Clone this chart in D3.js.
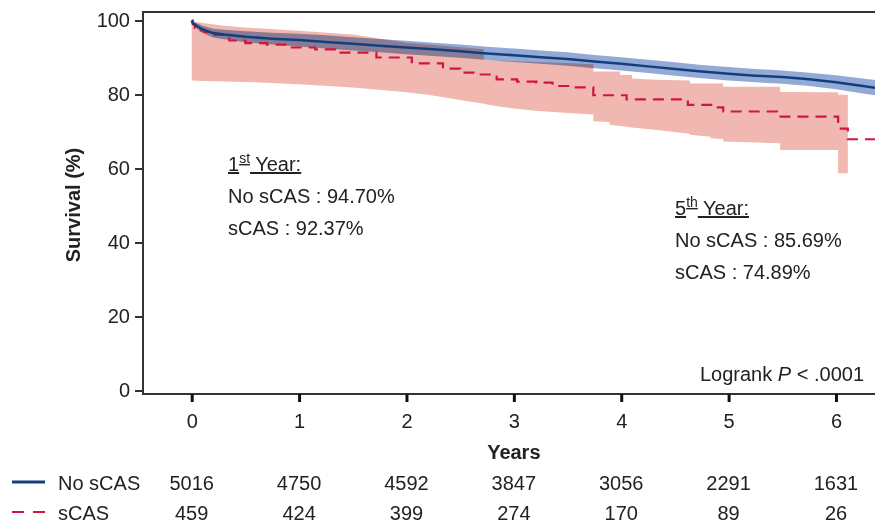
<!DOCTYPE html>
<html>
<head>
<meta charset="utf-8">
<script src="https://cdn.jsdelivr.net/npm/d3@7"></script>
<style>
  body { margin: 0; background: #fff; }
  svg text { font-family: "Liberation Sans", Arial, sans-serif; fill: #222; }
</style>
</head>
<body>
<div id="chart"></div>
<script>
// Kaplan-Meier curves, values
// No sCAS: many tiny steps, drawn as a smooth line
var noScasTime = [0, 0.01, 0.03, 0.06, 0.1, 0.2, 0.3, 0.5, 0.75, 1.0, 1.25, 1.5, 1.75, 2.0, 2.25, 2.5, 2.75, 3.0, 3.25, 3.5, 3.75, 4.0, 4.25, 4.5, 4.75, 5.0, 5.25, 5.5, 5.75, 6.0, 6.25, 6.4];
var noScasSurv = [100, 99.3, 98.8, 98.3, 97.6, 96.6, 96.2, 95.6, 95.1, 94.7, 94.2, 93.7, 93.2, 92.7, 92.2, 91.7, 91.1, 90.6, 90.1, 89.6, 88.9, 88.3, 87.6, 86.9, 86.2, 85.6, 85.1, 84.7, 84.1, 83.3, 82.3, 81.7];
var noScasHi   = [100, 99.7, 99.4, 99.1, 98.6, 97.8, 97.5, 97.1, 96.7, 96.4, 96.0, 95.5, 95.0, 94.5, 94.0, 93.5, 92.9, 92.4, 91.9, 91.4, 90.7, 90.1, 89.4, 88.7, 88.0, 87.4, 86.9, 86.5, 85.9, 85.2, 84.3, 83.8];
var noScasLo   = [100, 98.9, 98.2, 97.5, 96.6, 95.4, 94.9, 94.1, 93.5, 93.0, 92.4, 91.9, 91.4, 90.9, 90.4, 89.9, 89.3, 88.8, 88.3, 87.8, 87.1, 86.5, 85.8, 85.1, 84.4, 83.8, 83.3, 82.9, 82.3, 81.4, 80.3, 79.6];

// sCAS: visible steps
var scasTime = [0, 0.01, 0.03, 0.06, 0.12, 0.2, 0.35, 0.5, 0.7, 0.9, 1.15, 1.35, 1.72, 2.05, 2.34, 2.5, 2.68, 2.84, 3.03, 3.21, 3.36, 3.55, 3.74, 4.05, 4.62, 4.85, 4.95, 5.45, 6.02, 6.11, 6.4];
var scasSurv = [100, 99.0, 98.0, 97.3, 96.9, 96.1, 94.6, 93.9, 93.5, 92.7, 92.2, 91.3, 90.0, 88.4, 87.0, 85.9, 85.4, 84.1, 83.5, 83.2, 82.3, 81.9, 79.8, 78.7, 77.2, 76.5, 75.4, 74.0, 70.8, 67.9, 67.9];

// sCAS confidence band (repeated times mark vertical steps)
var scasBandTime = [0, 0.05, 0.3, 0.5, 1.0, 1.5, 2.0, 2.2, 2.5, 2.72, 2.72, 2.8, 3.0, 3.2, 3.5, 3.74, 3.74, 3.89, 3.89, 3.99, 3.99, 4.1, 4.1, 4.33, 4.64, 4.64, 4.83, 4.83, 4.95, 4.95, 5.48, 5.48, 6.02, 6.02, 6.11];
var scasHi = [100, 99.5, 98.6, 98.1, 97.2, 96.2, 94.0, 93.5, 92.8, 92.2, 89.3, 89.2, 89.0, 88.8, 88.5, 88.2, 86.2, 86.2, 86.2, 86.2, 85.3, 85.3, 84.3, 84.0, 83.8, 83.0, 83.0, 83.0, 83.0, 82.1, 82.1, 80.7, 80.6, 79.9, 79.9];
var scasLo = [83.8, 83.7, 83.5, 83.4, 82.8, 81.9, 80.6, 79.9, 78.5, 77.5, 77.5, 77.0, 76.2, 75.6, 75.0, 74.6, 72.8, 72.6, 71.8, 71.5, 71.5, 71.1, 71.1, 70.4, 69.4, 69.1, 68.6, 68.2, 68.0, 67.3, 66.8, 65.0, 65.0, 58.7, 58.7];

var yearTicks = [0, 1, 2, 3, 4, 5, 6];
var survTicks = [0, 20, 40, 60, 80, 100];
var groups = ["No sCAS", "sCAS"];
var atRiskNo = [5016, 4750, 4592, 3847, 3056, 2291, 1631];
var atRiskScas = [459, 424, 399, 274, 170, 89, 26];

var width = 875, height = 523;
var blue = "#123f7c", red = "#d3143f";

var svg = d3.select("#chart").append("svg")
    .attr("width", width)
    .attr("height", height);

var x = d3.scaleLinear().domain([0, 6]).range([191.7, 836]);
var y = d3.scaleLinear().domain([0, 100]).range([390.5, 20.5]);

function zip(t, a, b) {
    var out = [];
    for (var i = 0; i < t.length; i++) {
        out.push({t: t[i], a: a[i], b: b ? b[i] : null});
    }
    return out;
}

var bandArea = d3.area()
    .x(function(d) { return x(d.t); })
    .y0(function(d) { return y(d.b); })
    .y1(function(d) { return y(d.a); });

var smoothLine = d3.line()
    .x(function(d) { return x(d.t); })
    .y(function(d) { return y(d.a); });

var stepLine = d3.line()
    .curve(d3.curveStepAfter)
    .x(function(d) { return x(d.t); })
    .y(function(d) { return y(d.a); });

var plot = svg.append("g");

// confidence bands
plot.append("path")
    .datum(zip(scasBandTime, scasHi, scasLo))
    .attr("d", bandArea)
    .attr("fill", "#f0b8b0");

plot.append("path")
    .datum(zip(noScasTime, noScasHi, noScasLo))
    .attr("d", bandArea)
    .attr("fill", "#93aad6")
    .style("mix-blend-mode", "multiply");

// survival curves
plot.append("path")
    .datum(zip(scasTime, scasSurv))
    .attr("d", stepLine)
    .attr("fill", "none")
    .attr("stroke", red)
    .attr("stroke-width", 2.2)
    .attr("stroke-dasharray", "11,7");

plot.append("path")
    .datum(zip(noScasTime, noScasSurv))
    .attr("d", smoothLine)
    .attr("fill", "none")
    .attr("stroke", blue)
    .attr("stroke-width", 2.5);

// frame / axes
var axisColor = "#333";
svg.append("line").attr("x1", 143).attr("x2", width).attr("y1", 12).attr("y2", 12)
    .attr("stroke", axisColor).attr("stroke-width", 2);

var yAxis = svg.append("g")
    .attr("transform", "translate(143,0)")
    .call(d3.axisLeft(y).tickValues(survTicks).tickSize(8).tickPadding(5));
yAxis.select(".domain").attr("d", "M0,11V395").attr("stroke", axisColor).attr("stroke-width", 2);
yAxis.selectAll(".tick line").attr("stroke", axisColor).attr("stroke-width", 2);
yAxis.selectAll(".tick text").style("font-size", "20px").attr("fill", "#222");

var xAxis = svg.append("g")
    .attr("transform", "translate(0,394)")
    .call(d3.axisBottom(x).tickValues(yearTicks).tickFormat(d3.format("d")).tickSize(8).tickPadding(12));
xAxis.select(".domain").attr("d", "M142,0H" + width).attr("stroke", axisColor).attr("stroke-width", 2);
xAxis.selectAll(".tick line").attr("stroke", "#111").attr("stroke-width", 3);
xAxis.selectAll(".tick text").style("font-size", "20px").attr("fill", "#222");

svg.append("text")
    .attr("transform", "translate(80,205) rotate(-90)")
    .attr("text-anchor", "middle")
    .style("font-size", "20px").style("font-weight", "bold")
    .text("Survival (%)");

svg.append("text")
    .attr("x", x(3)).attr("y", 459)
    .attr("text-anchor", "middle")
    .style("font-size", "20px").style("font-weight", "bold")
    .text("Years");

// annotations
function yearNote(x0, y0, num, sup, lines) {
    var t = svg.append("text").attr("x", x0).attr("y", y0).style("font-size", "20px")
        .attr("text-decoration", "underline");
    t.append("tspan").text(num);
    t.append("tspan").attr("dy", -8).style("font-size", "14px").text(sup);
    t.append("tspan").attr("dy", 8).text(" Year:");
    lines.forEach(function(l, i) {
        svg.append("text").attr("x", x0).attr("y", y0 + 32 * (i + 1))
            .style("font-size", "20px").text(l);
    });
}
yearNote(228, 171, "1", "st", ["No sCAS : 94.70%", "sCAS : 92.37%"]);
yearNote(675, 215, "5", "th", ["No sCAS : 85.69%", "sCAS : 74.89%"]);

var lr = svg.append("text").attr("x", 864).attr("y", 381)
    .attr("text-anchor", "end").style("font-size", "20px");
lr.append("tspan").text("Logrank ");
lr.append("tspan").style("font-style", "italic").text("P");
lr.append("tspan").text(" < .0001");

// number at risk table
var rows = [atRiskNo, atRiskScas];
var rowY = [490, 520];
rows.forEach(function(r, i) {
    svg.append("line")
        .attr("x1", 12).attr("x2", 45).attr("y1", rowY[i] - 8).attr("y2", rowY[i] - 8)
        .attr("stroke", i === 0 ? blue : red)
        .attr("stroke-width", i === 0 ? 3 : 2)
        .attr("stroke-dasharray", i === 0 ? null : "12,9");
    svg.append("text").attr("x", 58).attr("y", rowY[i])
        .style("font-size", "20px").text(groups[i]);
    svg.selectAll(null).data(r).enter().append("text")
        .attr("x", function(d, j) { return x(yearTicks[j]); })
        .attr("y", rowY[i])
        .attr("text-anchor", "middle")
        .style("font-size", "20px")
        .text(function(d) { return d; });
});
</script>
</body>
</html>
